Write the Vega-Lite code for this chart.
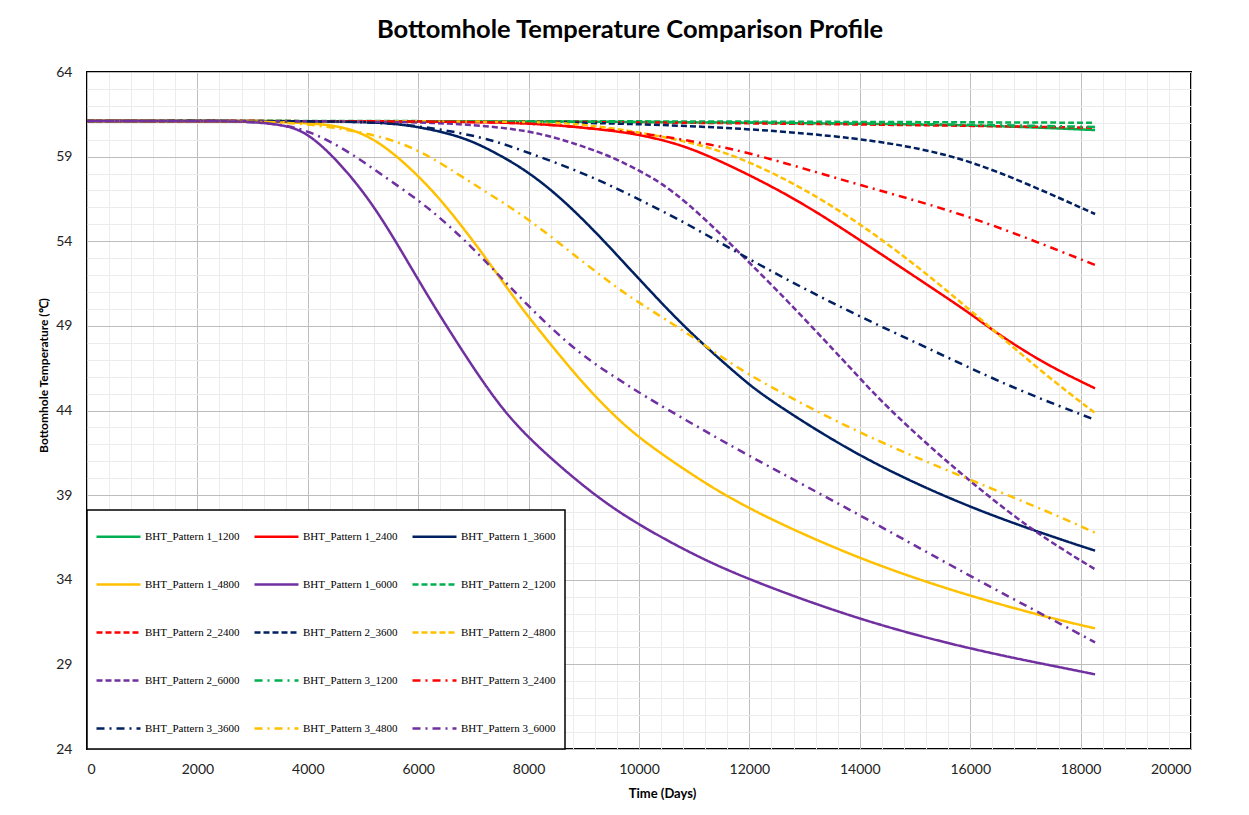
{
  "$schema": "https://vega.github.io/schema/vega-lite/v6.json",
  "width": 1104,
  "height": 677,
  "autosize": {"type": "none"},
  "padding": {"left": 87, "top": 72, "right": 58, "bottom": 66},
  "background": "white",
  "title": {"text": "Bottomhole Temperature Comparison Profile", "font": "Lato", "fontSize": 25.5, "fontWeight": "bold", "color": "black", "anchor": "middle", "offset": 22, "dx": -9},
  "config": {
    "view": {"stroke": "black", "strokeWidth": 2},
    "legend": {"strokeWidth": 1.5}
  },
  "data": {"values": [
    {"series": "BHT_Pattern 1_1200", "day": 0, "temp": 61.1},
    {"series": "BHT_Pattern 1_1200", "day": 4000, "temp": 61.1},
    {"series": "BHT_Pattern 1_1200", "day": 8000, "temp": 61.08},
    {"series": "BHT_Pattern 1_1200", "day": 10000, "temp": 61.05},
    {"series": "BHT_Pattern 1_1200", "day": 12000, "temp": 61.0},
    {"series": "BHT_Pattern 1_1200", "day": 14000, "temp": 60.95},
    {"series": "BHT_Pattern 1_1200", "day": 16000, "temp": 60.85},
    {"series": "BHT_Pattern 1_1200", "day": 17000, "temp": 60.75},
    {"series": "BHT_Pattern 1_1200", "day": 18262, "temp": 60.57},

    {"series": "BHT_Pattern 1_2400", "day": 0, "temp": 61.1},
    {"series": "BHT_Pattern 1_2400", "day": 5000, "temp": 61.1},
    {"series": "BHT_Pattern 1_2400", "day": 7000, "temp": 61.05},
    {"series": "BHT_Pattern 1_2400", "day": 8000, "temp": 60.98},
    {"series": "BHT_Pattern 1_2400", "day": 9000, "temp": 60.72},
    {"series": "BHT_Pattern 1_2400", "day": 9656, "temp": 60.47},
    {"series": "BHT_Pattern 1_2400", "day": 10018, "temp": 60.28},
    {"series": "BHT_Pattern 1_2400", "day": 10600, "temp": 59.85},
    {"series": "BHT_Pattern 1_2400", "day": 11165, "temp": 59.2},
    {"series": "BHT_Pattern 1_2400", "day": 12011, "temp": 57.91},
    {"series": "BHT_Pattern 1_2400", "day": 12977, "temp": 56.24},
    {"series": "BHT_Pattern 1_2400", "day": 14004, "temp": 54.07},
    {"series": "BHT_Pattern 1_2400", "day": 15091, "temp": 51.71},
    {"series": "BHT_Pattern 1_2400", "day": 16000, "temp": 49.74},
    {"series": "BHT_Pattern 1_2400", "day": 16419, "temp": 48.7},
    {"series": "BHT_Pattern 1_2400", "day": 17324, "temp": 46.79},
    {"series": "BHT_Pattern 1_2400", "day": 18262, "temp": 45.31},

    {"series": "BHT_Pattern 1_3600", "day": 0, "temp": 61.1},
    {"series": "BHT_Pattern 1_3600", "day": 4000, "temp": 61.1},
    {"series": "BHT_Pattern 1_3600", "day": 5000, "temp": 61.05},
    {"series": "BHT_Pattern 1_3600", "day": 5500, "temp": 60.97},
    {"series": "BHT_Pattern 1_3600", "day": 6000, "temp": 60.77},
    {"series": "BHT_Pattern 1_3600", "day": 6817, "temp": 60.18},
    {"series": "BHT_Pattern 1_3600", "day": 7422, "temp": 59.2},
    {"series": "BHT_Pattern 1_3600", "day": 8000, "temp": 58.1},
    {"series": "BHT_Pattern 1_3600", "day": 8630, "temp": 56.44},
    {"series": "BHT_Pattern 1_3600", "day": 9234, "temp": 54.47},
    {"series": "BHT_Pattern 1_3600", "day": 9656, "temp": 52.99},
    {"series": "BHT_Pattern 1_3600", "day": 10018, "temp": 51.71},
    {"series": "BHT_Pattern 1_3600", "day": 10864, "temp": 48.76},
    {"series": "BHT_Pattern 1_3600", "day": 11890, "temp": 45.8},
    {"series": "BHT_Pattern 1_3600", "day": 12313, "temp": 44.72},
    {"series": "BHT_Pattern 1_3600", "day": 14004, "temp": 41.18},
    {"series": "BHT_Pattern 1_3600", "day": 16000, "temp": 38.22},
    {"series": "BHT_Pattern 1_3600", "day": 17627, "temp": 36.39},
    {"series": "BHT_Pattern 1_3600", "day": 18262, "temp": 35.72},

    {"series": "BHT_Pattern 1_4800", "day": 0, "temp": 61.1},
    {"series": "BHT_Pattern 1_4800", "day": 3000, "temp": 61.1},
    {"series": "BHT_Pattern 1_4800", "day": 4000, "temp": 61.0},
    {"series": "BHT_Pattern 1_4800", "day": 4705, "temp": 60.77},
    {"series": "BHT_Pattern 1_4800", "day": 5308, "temp": 59.9},
    {"series": "BHT_Pattern 1_4800", "day": 6002, "temp": 57.9},
    {"series": "BHT_Pattern 1_4800", "day": 6516, "temp": 56.05},
    {"series": "BHT_Pattern 1_4800", "day": 7120, "temp": 53.5},
    {"series": "BHT_Pattern 1_4800", "day": 7723, "temp": 50.72},
    {"series": "BHT_Pattern 1_4800", "day": 7995, "temp": 49.54},
    {"series": "BHT_Pattern 1_4800", "day": 8500, "temp": 47.5},
    {"series": "BHT_Pattern 1_4800", "day": 9000, "temp": 45.55},
    {"series": "BHT_Pattern 1_4800", "day": 9500, "temp": 43.85},
    {"series": "BHT_Pattern 1_4800", "day": 10000, "temp": 42.36},
    {"series": "BHT_Pattern 1_4800", "day": 11000, "temp": 40.1},
    {"series": "BHT_Pattern 1_4800", "day": 12000, "temp": 38.12},
    {"series": "BHT_Pattern 1_4800", "day": 14004, "temp": 35.17},
    {"series": "BHT_Pattern 1_4800", "day": 16000, "temp": 33.0},
    {"series": "BHT_Pattern 1_4800", "day": 17627, "temp": 31.6},
    {"series": "BHT_Pattern 1_4800", "day": 18262, "temp": 31.13},

    {"series": "BHT_Pattern 1_6000", "day": 0, "temp": 61.1},
    {"series": "BHT_Pattern 1_6000", "day": 2500, "temp": 61.1},
    {"series": "BHT_Pattern 1_6000", "day": 3000, "temp": 61.05},
    {"series": "BHT_Pattern 1_6000", "day": 3500, "temp": 60.9},
    {"series": "BHT_Pattern 1_6000", "day": 4000, "temp": 60.5},
    {"series": "BHT_Pattern 1_6000", "day": 4705, "temp": 58.2},
    {"series": "BHT_Pattern 1_6000", "day": 5308, "temp": 55.6},
    {"series": "BHT_Pattern 1_6000", "day": 6002, "temp": 51.7},
    {"series": "BHT_Pattern 1_6000", "day": 6516, "temp": 48.95},
    {"series": "BHT_Pattern 1_6000", "day": 7361, "temp": 44.7},
    {"series": "BHT_Pattern 1_6000", "day": 8000, "temp": 42.3},
    {"series": "BHT_Pattern 1_6000", "day": 9172, "temp": 39.0},
    {"series": "BHT_Pattern 1_6000", "day": 10000, "temp": 37.23},
    {"series": "BHT_Pattern 1_6000", "day": 11000, "temp": 35.45},
    {"series": "BHT_Pattern 1_6000", "day": 12000, "temp": 33.98},
    {"series": "BHT_Pattern 1_6000", "day": 14004, "temp": 31.6},
    {"series": "BHT_Pattern 1_6000", "day": 16000, "temp": 29.89},
    {"series": "BHT_Pattern 1_6000", "day": 17627, "temp": 28.83},
    {"series": "BHT_Pattern 1_6000", "day": 18262, "temp": 28.41},

    {"series": "BHT_Pattern 2_1200", "day": 0, "temp": 61.1},
    {"series": "BHT_Pattern 2_1200", "day": 8000, "temp": 61.1},
    {"series": "BHT_Pattern 2_1200", "day": 12000, "temp": 61.07},
    {"series": "BHT_Pattern 2_1200", "day": 16000, "temp": 61.03},
    {"series": "BHT_Pattern 2_1200", "day": 18262, "temp": 61.0},

    {"series": "BHT_Pattern 2_2400", "day": 0, "temp": 61.1},
    {"series": "BHT_Pattern 2_2400", "day": 8000, "temp": 61.08},
    {"series": "BHT_Pattern 2_2400", "day": 12000, "temp": 60.97},
    {"series": "BHT_Pattern 2_2400", "day": 14000, "temp": 60.9},
    {"series": "BHT_Pattern 2_2400", "day": 16000, "temp": 60.82},
    {"series": "BHT_Pattern 2_2400", "day": 18262, "temp": 60.71},

    {"series": "BHT_Pattern 2_3600", "day": 0, "temp": 61.1},
    {"series": "BHT_Pattern 2_3600", "day": 6000, "temp": 61.1},
    {"series": "BHT_Pattern 2_3600", "day": 8000, "temp": 61.05},
    {"series": "BHT_Pattern 2_3600", "day": 9656, "temp": 60.97},
    {"series": "BHT_Pattern 2_3600", "day": 12011, "temp": 60.67},
    {"series": "BHT_Pattern 2_3600", "day": 14004, "temp": 60.08},
    {"series": "BHT_Pattern 2_3600", "day": 15091, "temp": 59.49},
    {"series": "BHT_Pattern 2_3600", "day": 16000, "temp": 58.74},
    {"series": "BHT_Pattern 2_3600", "day": 17024, "temp": 57.42},
    {"series": "BHT_Pattern 2_3600", "day": 18262, "temp": 55.61},

    {"series": "BHT_Pattern 2_4800", "day": 0, "temp": 61.1},
    {"series": "BHT_Pattern 2_4800", "day": 6000, "temp": 61.1},
    {"series": "BHT_Pattern 2_4800", "day": 8000, "temp": 61.05},
    {"series": "BHT_Pattern 2_4800", "day": 8570, "temp": 61.0},
    {"series": "BHT_Pattern 2_4800", "day": 9000, "temp": 60.88},
    {"series": "BHT_Pattern 2_4800", "day": 9656, "temp": 60.62},
    {"series": "BHT_Pattern 2_4800", "day": 10259, "temp": 60.28},
    {"series": "BHT_Pattern 2_4800", "day": 11165, "temp": 59.69},
    {"series": "BHT_Pattern 2_4800", "day": 12011, "temp": 58.7},
    {"series": "BHT_Pattern 2_4800", "day": 12977, "temp": 57.13},
    {"series": "BHT_Pattern 2_4800", "day": 14004, "temp": 55.06},
    {"series": "BHT_Pattern 2_4800", "day": 15091, "temp": 52.4},
    {"series": "BHT_Pattern 2_4800", "day": 15815, "temp": 50.43},
    {"series": "BHT_Pattern 2_4800", "day": 16419, "temp": 48.76},
    {"series": "BHT_Pattern 2_4800", "day": 17324, "temp": 46.2},
    {"series": "BHT_Pattern 2_4800", "day": 18262, "temp": 43.85},

    {"series": "BHT_Pattern 2_6000", "day": 0, "temp": 61.1},
    {"series": "BHT_Pattern 2_6000", "day": 5000, "temp": 61.1},
    {"series": "BHT_Pattern 2_6000", "day": 6000, "temp": 61.02},
    {"series": "BHT_Pattern 2_6000", "day": 6817, "temp": 60.93},
    {"series": "BHT_Pattern 2_6000", "day": 8025, "temp": 60.57},
    {"series": "BHT_Pattern 2_6000", "day": 8931, "temp": 59.69},
    {"series": "BHT_Pattern 2_6000", "day": 9534, "temp": 58.95},
    {"series": "BHT_Pattern 2_6000", "day": 10018, "temp": 58.15},
    {"series": "BHT_Pattern 2_6000", "day": 10400, "temp": 57.45},
    {"series": "BHT_Pattern 2_6000", "day": 10864, "temp": 56.3},
    {"series": "BHT_Pattern 2_6000", "day": 11467, "temp": 54.47},
    {"series": "BHT_Pattern 2_6000", "day": 12011, "temp": 52.7},
    {"series": "BHT_Pattern 2_6000", "day": 12676, "temp": 50.53},
    {"series": "BHT_Pattern 2_6000", "day": 13582, "temp": 47.38},
    {"series": "BHT_Pattern 2_6000", "day": 14004, "temp": 45.9},
    {"series": "BHT_Pattern 2_6000", "day": 14306, "temp": 44.82},
    {"series": "BHT_Pattern 2_6000", "day": 15030, "temp": 42.55},
    {"series": "BHT_Pattern 2_6000", "day": 16000, "temp": 39.79},
    {"series": "BHT_Pattern 2_6000", "day": 17143, "temp": 36.84},
    {"series": "BHT_Pattern 2_6000", "day": 18262, "temp": 34.62},

    {"series": "BHT_Pattern 3_1200", "day": 0, "temp": 61.1},
    {"series": "BHT_Pattern 3_1200", "day": 8000, "temp": 61.09},
    {"series": "BHT_Pattern 3_1200", "day": 12000, "temp": 61.02},
    {"series": "BHT_Pattern 3_1200", "day": 16000, "temp": 60.9},
    {"series": "BHT_Pattern 3_1200", "day": 18262, "temp": 60.75},

    {"series": "BHT_Pattern 3_2400", "day": 0, "temp": 61.1},
    {"series": "BHT_Pattern 3_2400", "day": 6000, "temp": 61.1},
    {"series": "BHT_Pattern 3_2400", "day": 8000, "temp": 61.0},
    {"series": "BHT_Pattern 3_2400", "day": 9000, "temp": 60.72},
    {"series": "BHT_Pattern 3_2400", "day": 10259, "temp": 60.32},
    {"series": "BHT_Pattern 3_2400", "day": 11346, "temp": 59.69},
    {"series": "BHT_Pattern 3_2400", "day": 12011, "temp": 59.2},
    {"series": "BHT_Pattern 3_2400", "day": 12977, "temp": 58.31},
    {"series": "BHT_Pattern 3_2400", "day": 14004, "temp": 57.32},
    {"series": "BHT_Pattern 3_2400", "day": 15091, "temp": 56.34},
    {"series": "BHT_Pattern 3_2400", "day": 16057, "temp": 55.36},
    {"series": "BHT_Pattern 3_2400", "day": 17024, "temp": 54.2},
    {"series": "BHT_Pattern 3_2400", "day": 18262, "temp": 52.6},

    {"series": "BHT_Pattern 3_3600", "day": 0, "temp": 61.1},
    {"series": "BHT_Pattern 3_3600", "day": 4000, "temp": 61.1},
    {"series": "BHT_Pattern 3_3600", "day": 5000, "temp": 61.05},
    {"series": "BHT_Pattern 3_3600", "day": 5906, "temp": 60.87},
    {"series": "BHT_Pattern 3_3600", "day": 6817, "temp": 60.38},
    {"series": "BHT_Pattern 3_3600", "day": 7422, "temp": 59.9},
    {"series": "BHT_Pattern 3_3600", "day": 8025, "temp": 59.2},
    {"series": "BHT_Pattern 3_3600", "day": 8931, "temp": 58.11},
    {"series": "BHT_Pattern 3_3600", "day": 9656, "temp": 57.03},
    {"series": "BHT_Pattern 3_3600", "day": 10018, "temp": 56.44},
    {"series": "BHT_Pattern 3_3600", "day": 10864, "temp": 55.06},
    {"series": "BHT_Pattern 3_3600", "day": 12011, "temp": 52.9},
    {"series": "BHT_Pattern 3_3600", "day": 12977, "temp": 51.22},
    {"series": "BHT_Pattern 3_3600", "day": 14004, "temp": 49.54},
    {"series": "BHT_Pattern 3_3600", "day": 15091, "temp": 47.9},
    {"series": "BHT_Pattern 3_3600", "day": 16000, "temp": 46.5},
    {"series": "BHT_Pattern 3_3600", "day": 17024, "temp": 45.0},
    {"series": "BHT_Pattern 3_3600", "day": 18262, "temp": 43.45},

    {"series": "BHT_Pattern 3_4800", "day": 0, "temp": 61.1},
    {"series": "BHT_Pattern 3_4800", "day": 3000, "temp": 61.1},
    {"series": "BHT_Pattern 3_4800", "day": 4000, "temp": 60.97},
    {"series": "BHT_Pattern 3_4800", "day": 5308, "temp": 60.28},
    {"series": "BHT_Pattern 3_4800", "day": 6002, "temp": 59.39},
    {"series": "BHT_Pattern 3_4800", "day": 6516, "temp": 58.4},
    {"series": "BHT_Pattern 3_4800", "day": 7120, "temp": 57.13},
    {"series": "BHT_Pattern 3_4800", "day": 7995, "temp": 55.36},
    {"series": "BHT_Pattern 3_4800", "day": 8931, "temp": 52.9},
    {"series": "BHT_Pattern 3_4800", "day": 9656, "temp": 51.12},
    {"series": "BHT_Pattern 3_4800", "day": 10018, "temp": 50.33},
    {"series": "BHT_Pattern 3_4800", "day": 10864, "temp": 48.6},
    {"series": "BHT_Pattern 3_4800", "day": 11649, "temp": 46.8},
    {"series": "BHT_Pattern 3_4800", "day": 12313, "temp": 45.5},
    {"series": "BHT_Pattern 3_4800", "day": 14004, "temp": 42.6},
    {"series": "BHT_Pattern 3_4800", "day": 16000, "temp": 39.9},
    {"series": "BHT_Pattern 3_4800", "day": 17505, "temp": 37.9},
    {"series": "BHT_Pattern 3_4800", "day": 18262, "temp": 36.78},

    {"series": "BHT_Pattern 3_6000", "day": 0, "temp": 61.1},
    {"series": "BHT_Pattern 3_6000", "day": 2500, "temp": 61.1},
    {"series": "BHT_Pattern 3_6000", "day": 3000, "temp": 61.05},
    {"series": "BHT_Pattern 3_6000", "day": 3500, "temp": 60.9},
    {"series": "BHT_Pattern 3_6000", "day": 4000, "temp": 60.57},
    {"series": "BHT_Pattern 3_6000", "day": 4705, "temp": 59.39},
    {"series": "BHT_Pattern 3_6000", "day": 5308, "temp": 58.0},
    {"series": "BHT_Pattern 3_6000", "day": 6002, "temp": 56.44},
    {"series": "BHT_Pattern 3_6000", "day": 6516, "temp": 55.06},
    {"series": "BHT_Pattern 3_6000", "day": 7120, "temp": 53.19},
    {"series": "BHT_Pattern 3_6000", "day": 7995, "temp": 50.13},
    {"series": "BHT_Pattern 3_6000", "day": 8931, "temp": 47.28},
    {"series": "BHT_Pattern 3_6000", "day": 9656, "temp": 45.8},
    {"series": "BHT_Pattern 3_6000", "day": 10018, "temp": 45.0},
    {"series": "BHT_Pattern 3_6000", "day": 11105, "temp": 42.95},
    {"series": "BHT_Pattern 3_6000", "day": 12000, "temp": 41.3},
    {"series": "BHT_Pattern 3_6000", "day": 14004, "temp": 37.83},
    {"series": "BHT_Pattern 3_6000", "day": 16000, "temp": 34.2},
    {"series": "BHT_Pattern 3_6000", "day": 17505, "temp": 31.62},
    {"series": "BHT_Pattern 3_6000", "day": 18262, "temp": 30.3}
  ]},
  "layer": [
    {
      "mark": {"type": "line", "opacity": 0},
      "encoding": {
        "x": {"field": "day", "type": "quantitative", "scale": {"domain": [0, 20000], "nice": false, "zero": false},
          "axis": {"orient": "top", "values": [400,800,1200,1600,2400,2800,3200,3600,4400,4800,5200,5600,6400,6800,7200,7600,8400,8800,9200,9600,10400,10800,11200,11600,12400,12800,13200,13600,14400,14800,15200,15600,16400,16800,17200,17600,18400,18800,19200,19600],
            "grid": true, "gridColor": "#ececec", "gridWidth": 1, "labels": false, "ticks": false, "domain": false, "title": null}},
        "y": {"field": "temp", "type": "quantitative", "scale": {"domain": [24, 64], "nice": false, "zero": false},
          "axis": {"orient": "right", "values": [25,26,27,28,30,31,32,33,35,36,37,38,40,41,42,43,45,46,47,48,50,51,52,53,55,56,57,58,60,61,62,63],
            "grid": true, "gridColor": "#ececec", "gridWidth": 1, "labels": false, "ticks": false, "domain": false, "title": null}},
        "detail": {"field": "series"}
      }
    },
    {
      "mark": {"type": "line", "strokeWidth": 2.5, "interpolate": "basis"},
      "encoding": {
        "x": {"field": "day", "type": "quantitative",
          "axis": {"orient": "bottom", "values": [0,2000,4000,6000,8000,10000,12000,14000,16000,18000,20000], "format": "d", "grid": true, "gridColor": "#bdbdbd", "gridWidth": 1,
            "domain": false, "ticks": false, "labelFont": "Lato", "labelFontSize": 14, "labelColor": "#222222", "labelPadding": 13,
            "title": "Time (Days)", "titleFont": "Lato", "titleFontSize": 13, "titleFontWeight": "bold", "titleColor": "black", "titleX": 575, "titleY": 44, "titleBaseline": "middle"}},
        "y": {"field": "temp", "type": "quantitative",
          "axis": {"orient": "left", "values": [24,29,34,39,44,49,54,59,64], "format": "d", "grid": true, "gridColor": "#bdbdbd", "gridWidth": 1,
            "domain": false, "ticks": false, "labelFont": "Lato", "labelFontSize": 14, "labelColor": "#222222", "labelPadding": 15,
            "title": "Bottomhole Temperature (℃)", "titleFont": "Lato", "titleFontSize": 12, "titleFontWeight": "bold", "titleColor": "black", "titleX": -44, "titleY": 303, "titleBaseline": "middle", "titleAngle": -90}},
        "color": {"field": "series", "type": "nominal",
          "scale": {
            "domain": ["BHT_Pattern 1_1200","BHT_Pattern 1_2400","BHT_Pattern 1_3600","BHT_Pattern 1_4800","BHT_Pattern 1_6000","BHT_Pattern 2_1200","BHT_Pattern 2_2400","BHT_Pattern 2_3600","BHT_Pattern 2_4800","BHT_Pattern 2_6000","BHT_Pattern 3_1200","BHT_Pattern 3_2400","BHT_Pattern 3_3600","BHT_Pattern 3_4800","BHT_Pattern 3_6000"],
            "range": ["#00B050","#FF0000","#002060","#FFC000","#7030A0","#00B050","#FF0000","#002060","#FFC000","#7030A0","#00B050","#FF0000","#002060","#FFC000","#7030A0"]},
          "legend": {"orient": "none", "direction": "horizontal", "legendX": 0, "legendY": 438, "columns": 3, "title": "\u00a0", "titleOrient": "bottom", "titleFontSize": 4, "titlePadding": 2,
            "symbolType": "M-1.375,0H1.375", "symbolSize": 1024, "symbolStrokeWidth": 2.5, "symbolOffset": 5,
            "labelFont": "Liberation Serif", "labelFontSize": 11, "labelColor": "black", "labelLimit": 250, "labelOffset": 9,
            "columnPadding": 9, "rowPadding": 25, "padding": 9, "strokeColor": "black", "fillColor": "white"}},
        "strokeDash": {"field": "series", "type": "nominal",
          "scale": {
            "domain": ["BHT_Pattern 1_1200","BHT_Pattern 1_2400","BHT_Pattern 1_3600","BHT_Pattern 1_4800","BHT_Pattern 1_6000","BHT_Pattern 2_1200","BHT_Pattern 2_2400","BHT_Pattern 2_3600","BHT_Pattern 2_4800","BHT_Pattern 2_6000","BHT_Pattern 3_1200","BHT_Pattern 3_2400","BHT_Pattern 3_3600","BHT_Pattern 3_4800","BHT_Pattern 3_6000"],
            "range": [[1,0],[1,0],[1,0],[1,0],[1,0],[6,3],[6,3],[6,3],[6,3],[6,3],[8,5,2,5],[8,5,2,5],[8,5,2,5],[8,5,2,5],[8,5,2,5]]},
          "legend": {"orient": "none", "direction": "horizontal", "legendX": 0, "legendY": 438, "columns": 3, "title": "\u00a0", "titleOrient": "bottom", "titleFontSize": 4, "titlePadding": 2,
            "symbolType": "M-1.375,0H1.375", "symbolSize": 1024, "symbolStrokeWidth": 2.5, "symbolOffset": 5,
            "labelFont": "Liberation Serif", "labelFontSize": 11, "labelColor": "black", "labelLimit": 250, "labelOffset": 9,
            "columnPadding": 9, "rowPadding": 25, "padding": 9, "strokeColor": "black", "fillColor": "white"}}
      }
    }
  ],
  "resolve": {"axis": {"x": "independent", "y": "independent"}}
}
